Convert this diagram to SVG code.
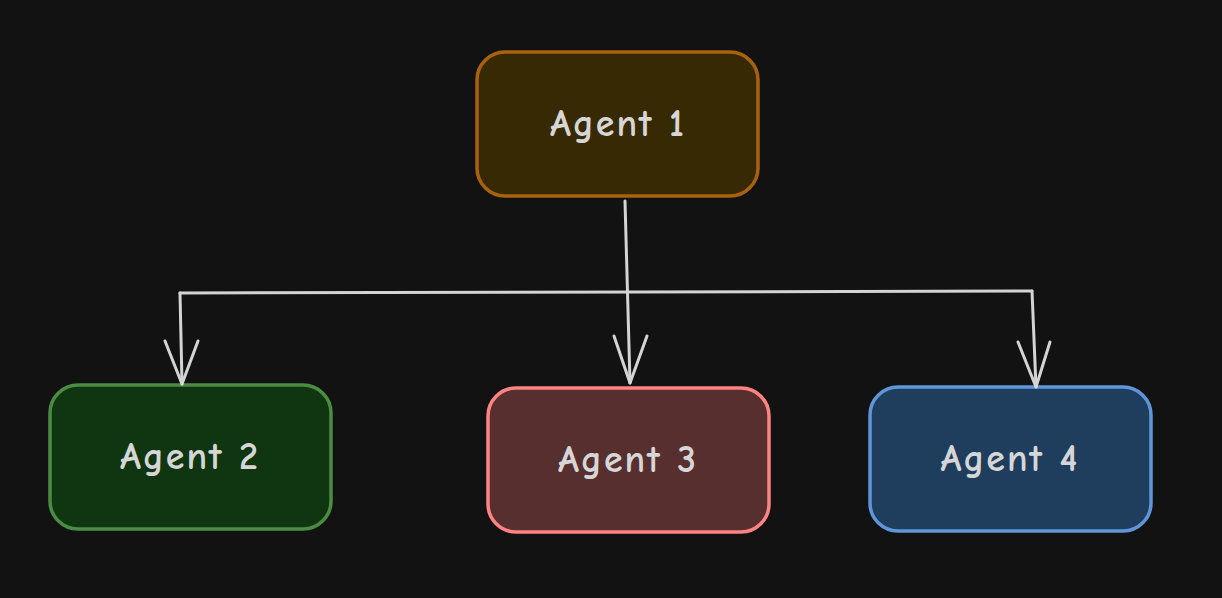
<svg xmlns="http://www.w3.org/2000/svg" width="1222" height="598" viewBox="0 0 1222 598">
<style>
.node rect{stroke-width:3.5}
.node text{font-family:"Comic Neue","Liberation Sans",sans-serif;font-size:38px;font-weight:bold;fill:#d6d6d6;text-anchor:middle;dominant-baseline:central;letter-spacing:2px}
.conn path{fill:none;stroke:#d4d4d4;stroke-width:3;stroke-linecap:round;stroke-linejoin:round}
</style>
<rect width="1222" height="598" fill="#121212"/>
<g id="agent1" class="node">
<rect x="477" y="52" width="281" height="144" rx="28" fill="#372903" stroke="#a8620f"/>
<text x="618" y="124">Agent 1</text>
</g>
<g id="agent2" class="node">
<rect x="50" y="385" width="281" height="144" rx="28" fill="#0f3511" stroke="#4b8c43"/>
<text x="190" y="457">Agent 2</text>
</g>
<g id="agent3" class="node">
<rect x="488" y="388" width="281" height="144" rx="28" fill="#572f2f" stroke="#ff8383"/>
<text x="628" y="460">Agent 3</text>
</g>
<g id="agent4" class="node">
<rect x="870" y="387" width="281" height="144" rx="28" fill="#1f3d5d" stroke="#5f96d8"/>
<text x="1010" y="459">Agent 4</text>
</g>
<g id="connectors" class="conn">
<path d="M625 201 L630 383"/>
<path d="M614 336 L630 383 L647 336"/>
<path d="M180 293 L1032 291"/>
<path d="M180 293 L182 384"/>
<path d="M165 341 L182 384 L198 341"/>
<path d="M1032 291 L1036 387"/>
<path d="M1018 342 L1036 387 L1050 342"/>
</g>
</svg>
